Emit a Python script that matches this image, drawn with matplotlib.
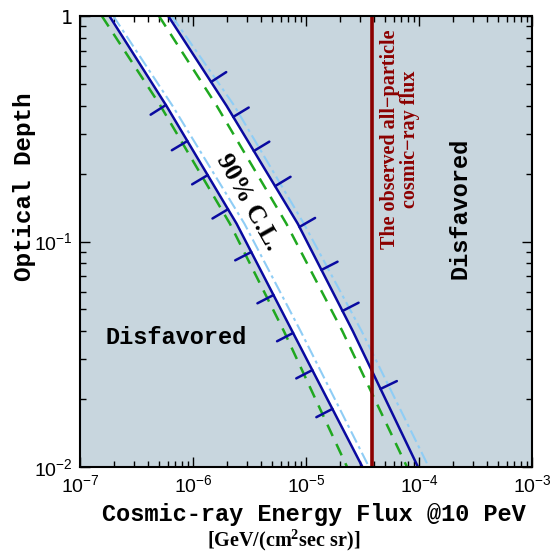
import matplotlib
matplotlib.use('Agg')
import matplotlib.pyplot as plt
import numpy as np

tau_levels = [1.0, 0.4, 0.12, 0.04, 0.01]

# energy flux [GeV/(cm2 sec sr)] of each curve at those depths
blue_left = [1.82e-7, 5.81e-7, 2.43e-6, 7.55e-6, 3.16e-5]
blue_right = [6.04e-7, 1.98e-6, 8.45e-6, 2.60e-5, 9.80e-5]
green_left = [1.56e-7, 5.15e-7, 2.12e-6, 6.38e-6, 2.31e-5]
green_right = [5.00e-7, 1.62e-6, 6.70e-6, 2.10e-5, 7.83e-5]
lblue_left = [1.97e-7, 6.58e-7, 2.85e-6, 8.97e-6, 3.61e-5]
lblue_right = [6.49e-7, 2.32e-6, 9.57e-6, 3.11e-5, 1.22e-4]

# observed all-particle cosmic-ray flux
observed_flux = 3.84e-5

# depths of the hatch marks on the 90% C.L. boundaries
hatch_tau_left = [0.403, 0.279, 0.197, 0.139, 0.0898, 0.0579, 0.0393, 0.0269, 0.0181]
hatch_tau_right = [0.510, 0.357, 0.252, 0.176, 0.116, 0.0748, 0.0492, 0.0222]

x_ticks = [1e-7, 1e-6, 1e-5, 1e-4, 1e-3]
x_ticklabels = ['$10^{-7}$', '$10^{-6}$', '$10^{-5}$', '$10^{-4}$', '$10^{-3}$']
y_ticks = [1e-2, 1e-1, 1]
y_ticklabels = ['$10^{-2}$', '$10^{-1}$', '1']

plt.rcParams['mathtext.fontset'] = 'custom'
plt.rcParams['mathtext.rm'] = 'Liberation Sans'
plt.rcParams['mathtext.it'] = 'Liberation Sans:italic'
plt.rcParams['mathtext.bf'] = 'Liberation Serif:bold'

bg = '#c8d6de'
W, H = 554, 552
fig = plt.figure(figsize=(W / 100, H / 100), dpi=100)
ax = fig.add_axes([80 / W, 85 / H, 452 / W, 451 / H])
ax.set_facecolor(bg)
ax.set_xscale('log')
ax.set_yscale('log')
ax.set_xlim(1e-7, 1e-3)
ax.set_ylim(1e-2, 1)

# allowed band (white) between the two solid curves, left of the observed flux
ax.fill_betweenx(tau_levels, blue_left, blue_right, color='white', lw=0, zorder=1)
ax.axvspan(observed_flux, 1e-3, color=bg, lw=0, zorder=1.5)

ax.plot(green_left, tau_levels, color='#1fa81f', lw=1.8, dashes=(5, 3.5), zorder=3)
ax.plot(green_right, tau_levels, color='#1fa81f', lw=1.8, dashes=(5, 3.5), zorder=3)
ax.plot(lblue_left, tau_levels, color='#8fcdf5', lw=1.5, dashes=(6, 2, 1.5, 2), zorder=3)
ax.plot(lblue_right, tau_levels, color='#8fcdf5', lw=1.5, dashes=(6, 2, 1.5, 2), zorder=3)
ax.plot(blue_left, tau_levels, color='#0a0aa0', lw=1.8, zorder=4)
ax.plot(blue_right, tau_levels, color='#0a0aa0', lw=1.8, zorder=4)

ax.axvline(observed_flux, color='#8b0000', lw=2.6, zorder=5)


# hatch marks perpendicular to the boundary curves, pointing to the excluded side
def add_hatches(curve, hatch_taus, side):
    lt = np.log10(tau_levels)[::-1]
    lf = np.log10(curve)[::-1]
    for t in hatch_taus:
        f = 10 ** np.interp(np.log10(t), lt, lf)
        p0 = ax.transData.transform((f, t))
        f2 = 10 ** np.interp(np.log10(t) + 0.05, lt, lf)
        p1 = ax.transData.transform((f2, t * 10 ** 0.05))
        d = (p1 - p0) / np.hypot(*(p1 - p0))
        n = np.array([-d[1], d[0]])
        if np.sign(n[0]) != side:
            n = -n
        L = 13
        ax.annotate('', xy=(f, t), xytext=(n[0] * L, n[1] * L), textcoords='offset points',
                    arrowprops=dict(arrowstyle='-', color='#0a0aa0', lw=1.8,
                                    shrinkA=0, shrinkB=0), zorder=4)


add_hatches(blue_left, hatch_tau_left, -1)
add_hatches(blue_right, hatch_tau_right, 1)

ax.set_xticks(x_ticks)
ax.set_xticklabels(x_ticklabels)
ax.set_yticks(y_ticks)
ax.set_yticklabels(y_ticklabels)
ax.tick_params(which='both', direction='in', top=True, right=True, width=1)
ax.tick_params(which='major', length=7, labelsize=14, pad=5)
ax.tick_params(which='minor', length=4)
for s in ax.spines.values():
    s.set_linewidth(1.5)
    s.set_zorder(6)

mono = dict(family='Liberation Mono', weight='bold')
serif = dict(family='Liberation Serif', weight='bold')

ax.text(0.212, 0.288, 'Disfavored', transform=ax.transAxes, fontsize=17,
        ha='center', va='center', **mono)
ax.text(0.841, 0.574, 'Disfavored', transform=ax.transAxes, fontsize=17,
        ha='center', va='center', rotation=90, **mono)
ax.text(0.708, 0.726, 'The observed all\u2212particle\ncosmic\u2212ray flux',
        transform=ax.transAxes, fontsize=14.5, color='#8b0000', ha='center',
        va='center', rotation=90, linespacing=0.95, multialignment='center', **serif)
ax.text(0.371, 0.588, '90% C.L.', transform=ax.transAxes, fontsize=18.5,
        ha='center', va='center', rotation=-60.6, rotation_mode='anchor', zorder=6, **serif)

fig.text(314 / W, 1 - 515 / H, 'Cosmic-ray Energy Flux @10 PeV', fontsize=17,
         ha='center', va='center', **mono)
fig.text(284 / W, 1 - 540 / H, r'$\mathbf{[GeV/(cm^2sec\ sr)]}$', fontsize=14.5,
         ha='center', va='center')
fig.text(25 / W, 1 - 187 / H, 'Optical Depth', fontsize=17.5, rotation=90,
         ha='center', va='center', **mono)

fig.savefig('out.png', dpi=100)
